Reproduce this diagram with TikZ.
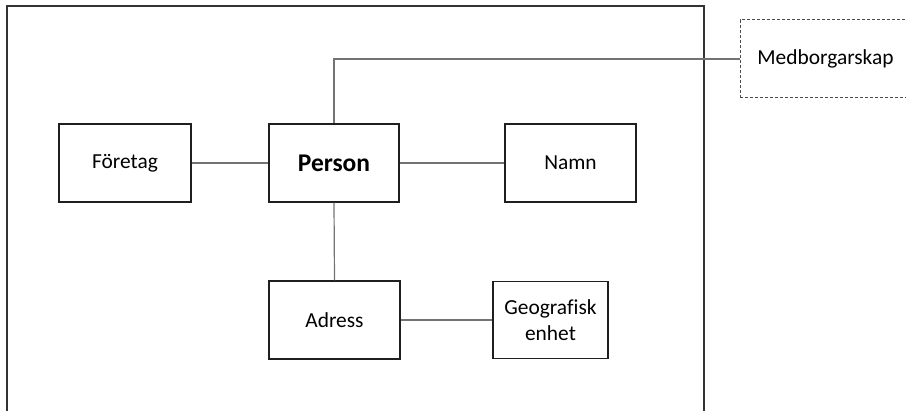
\documentclass[tikz,border=0pt]{standalone}
\usepackage{fontspec}
\setmainfont[Ligatures=NoCommon]{Carlito}
\begin{document}
\begin{tikzpicture}[x=1pt,y=-1pt,
  entity/.style={draw=black!88,line width=1.2pt,fill=white,inner sep=0pt,
    align=center,font=\fontsize{21.4}{26}\selectfont},
  link/.style={draw=black!55,line width=1.2pt},
  frameline/.style={draw=black!80,line width=1.4pt}]
\useasboundingbox (0,0) rectangle (906,411);
\clip (0,0) rectangle (906,411);
% open frame around the core entities
\draw[frameline] (7,412) -- (7,6) -- (704,6) -- (704,412);
% entities
\node[entity,minimum width=132,minimum height=78] (foretag) at (125,163) {Företag};
\node[entity,minimum width=130,minimum height=78,
  font=\fontsize{25.5}{30}\selectfont\bfseries] (person) at (334,163) {Person};
\node[entity,minimum width=131,minimum height=78] (namn) at (570.5,163) {Namn};
\node[entity,minimum width=131,minimum height=78] (adress) at (334.5,320) {Adress};
\node[entity,minimum width=115,minimum height=77] (geo) at (550.5,320) {Geografisk\\enhet};
\node[entity,draw=black!70,line width=1pt,dashed,dash pattern=on 3pt off 2pt,
  minimum width=171,minimum height=78] (medb) at (825.5,59) {Medborgarskap};
% relations
\draw[link] (person.west) -- (foretag.east);
\draw[link] (person.east) -- (namn.west);
\draw[link] (person.south) -- (adress.north);
\draw[link] (adress.east) -- (geo.west);
\draw[link] (person.north) |- (medb.west);
\end{tikzpicture}
\end{document}
